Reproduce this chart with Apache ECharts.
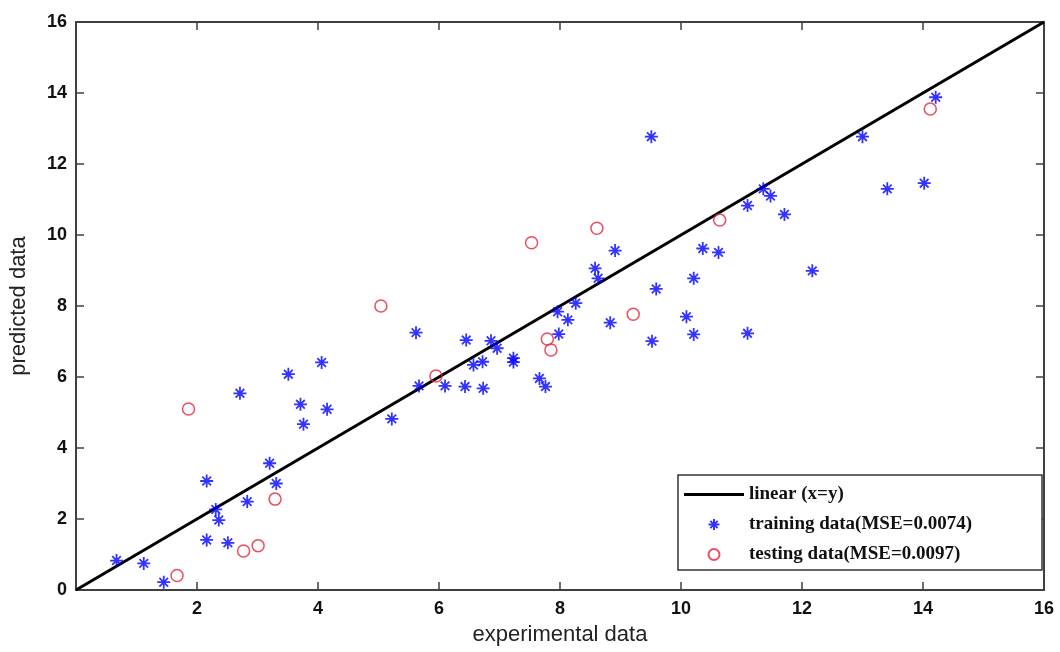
<!DOCTYPE html>
<html>
<head>
<meta charset="utf-8">
<script src="https://cdn.jsdelivr.net/npm/echarts@6/dist/echarts.min.js"></script>
<style>
  html, body { margin: 0; padding: 0; background: #fff; }
  #chart { width: 1060px; height: 652px; }
</style>
</head>
<body>
<div id="chart"></div>
<script>
// experimental vs predicted
const trainX = [0.67, 1.12, 1.45, 2.16, 2.16, 2.31, 2.36, 2.51, 2.71, 2.83, 3.20, 3.31, 3.51, 3.71, 3.76,
  4.06, 4.15, 5.22, 5.62, 5.67, 6.10, 6.43, 6.45, 6.57, 6.72, 6.73, 6.86, 6.96, 7.23, 7.23, 7.66, 7.76,
  7.96, 7.98, 8.13, 8.26, 8.58, 8.63, 8.83, 8.91, 9.51, 9.52, 9.59, 10.09, 10.21, 10.21, 10.36, 10.62,
  11.10, 11.10, 11.36, 11.48, 11.71, 12.17, 13.00, 13.41, 14.02, 14.21];
const trainY = [0.83, 0.75, 0.22, 3.07, 1.41, 2.27, 1.97, 1.33, 5.54, 2.49, 3.57, 3.00, 6.08, 5.23, 4.67,
  6.41, 5.09, 4.82, 7.25, 5.75, 5.75, 5.73, 7.04, 6.34, 6.43, 5.68, 7.02, 6.81, 6.53, 6.42, 5.96, 5.73,
  7.84, 7.21, 7.61, 8.08, 9.06, 8.78, 7.53, 9.56, 12.77, 7.01, 8.48, 7.70, 8.78, 7.20, 9.62, 9.51,
  10.83, 7.23, 11.30, 11.10, 10.58, 8.99, 12.77, 11.30, 11.46, 13.88];
const testX = [1.67, 1.86, 2.77, 3.01, 3.29, 5.04, 5.95, 7.53, 7.79, 7.85, 8.61, 9.21, 10.64, 14.12];
const testY = [0.41, 5.10, 1.10, 1.25, 2.56, 8.00, 6.03, 9.78, 7.07, 6.76, 10.19, 7.77, 10.42, 13.55];
const lineX = [0, 16];
const seriesNames = ['linear (x=y)', 'training data(MSE=0.0074)', 'testing data(MSE=0.0097)'];

const zip = (xs, ys) => xs.map((x, i) => [x, ys[i]]);
const starPath = 'path://M6,0L6,12M0,6L12,6M2,2L10,10M2,10L10,2';

const chart = echarts.init(document.getElementById('chart'));
const axisColor = '#404040';
const tickFont = { color: '#111', fontSize: 18, fontWeight: 'bold', fontFamily: 'Liberation Sans, Arial, sans-serif' };

function frameAxis(extra) {
  return Object.assign({
    type: 'value', min: 0, max: 16, interval: 2,
    axisLine: { onZero: false, lineStyle: { color: axisColor, width: 2 } },
    axisTick: { inside: true, length: 8, lineStyle: { color: axisColor, width: 1.5 } },
    axisLabel: { show: false },
    splitLine: { show: false }
  }, extra);
}

const option = {
  backgroundColor: '#fff',
  animation: false,
  grid: { left: 76, top: 22, right: 16, bottom: 62, outerBoundsMode: 'none', containLabel: false },
  xAxis: [
    frameAxis({
      position: 'bottom',
      name: 'experimental data', nameLocation: 'middle', nameGap: 34,
      nameTextStyle: { color: '#222', fontSize: 22, fontFamily: 'Liberation Sans, Arial, sans-serif' },
      axisLabel: Object.assign({ margin: 10, formatter: v => (v === 0 ? '' : v) }, tickFont)
    }),
    frameAxis({ position: 'top' })
  ],
  yAxis: [
    frameAxis({
      position: 'left',
      name: 'predicted data', nameLocation: 'middle', nameGap: 46,
      nameTextStyle: { color: '#222', fontSize: 22, fontFamily: 'Liberation Sans, Arial, sans-serif' },
      axisLabel: Object.assign({ margin: 9 }, tickFont)
    }),
    frameAxis({ position: 'right' })
  ],
  legend: {
    orient: 'vertical',
    left: 678, top: 475,
    width: 367,
    padding: [10, 70, 6, 6],
    backgroundColor: '#fff',
    borderColor: '#333',
    borderWidth: 1.5,
    borderRadius: 0,
    itemWidth: 60, itemHeight: 11, itemGap: 11,
    textStyle: { color: '#111', fontSize: 19, fontWeight: 'bold', fontFamily: 'Liberation Serif, Times New Roman, serif' },
    data: [
      { name: seriesNames[0], icon: 'path://M0,0L60,0L60,3L0,3Z', itemStyle: { color: '#000' } },
      seriesNames[1],
      seriesNames[2]
    ]
  },
  series: [
    {
      name: seriesNames[0], type: 'line',
      data: zip(lineX, lineX),
      symbol: 'none',
      lineStyle: { color: '#000', width: 3 },
      itemStyle: { color: '#000' },
      z: 1
    },
    {
      name: seriesNames[1], type: 'scatter',
      data: zip(trainX, trainY),
      symbol: starPath, symbolSize: 13,
      itemStyle: { color: 'rgba(0,0,0,0)', borderColor: '#0000ff', borderWidth: 1.8 },
      z: 3
    },
    {
      name: seriesNames[2], type: 'scatter',
      data: zip(testX, testY),
      symbol: 'circle', symbolSize: 12,
      itemStyle: { color: 'rgba(0,0,0,0)', borderColor: '#e8203a', borderWidth: 1.5 },
      z: 3
    }
  ]
};

chart.setOption(option);
window.addEventListener('resize', () => chart.resize());
</script>
</body>
</html>
